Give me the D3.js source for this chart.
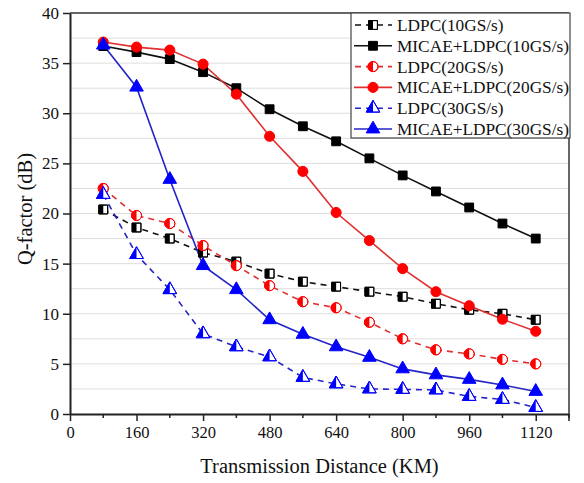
<!DOCTYPE html>
<html><head><meta charset="utf-8">
<script src="https://cdn.jsdelivr.net/npm/d3@7"></script>
<style>body{margin:0;background:#fff}svg{display:block}text{font-family:"Liberation Serif","Times New Roman",serif;fill:#111}</style>
</head><body>
<svg id="c" width="584" height="483"></svg>
<script>
const distances = [80,160,240,320,400,480,560,640,720,800,880,960,1040,1120];
const ldpc10 = [20.4,18.6,17.5,16.1,15.2,14.0,13.2,12.7,12.2,11.7,11.0,10.4,10.0,9.4];
const micae10 = [36.7,36.1,35.4,34.1,32.5,30.4,28.7,27.2,25.5,23.8,22.2,20.6,19.0,17.5];
const ldpc20 = [22.5,19.8,19.0,16.8,14.8,12.8,11.2,10.6,9.15,7.5,6.4,6.0,5.45,5.0];
const micae20 = [37.1,36.6,36.3,34.9,31.9,27.7,24.2,20.1,17.3,14.5,12.2,10.8,9.45,8.25];
const ldpc30 = [21.9,15.9,12.4,8.0,6.7,5.7,3.65,3.0,2.5,2.45,2.4,1.75,1.45,0.65];
const micae30 = [36.8,32.6,23.4,14.8,12.4,9.4,7.95,6.7,5.65,4.5,3.9,3.45,2.9,2.25];
const xTicks = [0,160,320,480,640,800,960,1120];
const yTicks = [0,5,10,15,20,25,30,35,40];
const seriesNames = ["LDPC(10GS/s)","MICAE+LDPC(10GS/s)","LDPC(20GS/s)","MICAE+LDPC(20GS/s)","LDPC(30GS/s)","MICAE+LDPC(30GS/s)"];

const series = [
  {name:seriesNames[0], vals:ldpc10, color:"#111", mcol:"#000", shape:"square", half:true},
  {name:seriesNames[1], vals:micae10, color:"#111", mcol:"#000", shape:"square", half:false},
  {name:seriesNames[2], vals:ldpc20, color:"#e03030", mcol:"#ff0000", shape:"circle", half:true},
  {name:seriesNames[3], vals:micae20, color:"#e03030", mcol:"#ff0000", shape:"circle", half:false},
  {name:seriesNames[4], vals:ldpc30, color:"#2424c8", mcol:"#0000ff", shape:"triangle", half:true},
  {name:seriesNames[5], vals:micae30, color:"#2424c8", mcol:"#0000ff", shape:"triangle", half:false}
];

const svg = d3.select("#c");
const L=70, R=569, T=13, B=414;
const x = d3.scaleLinear().domain([0,1200]).range([L,R]);
const y = d3.scaleLinear().domain([0,40]).range([B,T]);

svg.append("defs").append("clipPath").attr("id","lefthalf")
  .append("rect").attr("x",-20).attr("y",-20).attr("width",20).attr("height",40);

svg.append("g").selectAll("line").data(d3.range(2.5,40,2.5)).join("line")
  .attr("x1",L).attr("x2",R).attr("y1",d=>y(d)).attr("y2",d=>y(d))
  .attr("stroke","#dedede").attr("stroke-width",1);

svg.append("line").attr("x1",L).attr("x2",R).attr("y1",T).attr("y2",T).attr("stroke","#333").attr("stroke-width",1.5);
svg.append("line").attr("x1",R).attr("x2",R).attr("y1",T).attr("y2",B).attr("stroke","#333").attr("stroke-width",1.5);

const xAxis = d3.axisBottom(x).tickValues(xTicks).tickFormat(d3.format("d")).tickSize(7).tickSizeOuter(0).tickPadding(5);
const gx = svg.append("g").attr("transform",`translate(0,${B})`).call(xAxis);
gx.selectAll("text").attr("font-size",16.5);
gx.append("g").selectAll("line").data(d3.range(80,1201,160)).join("line")
  .attr("x1",d=>x(d)).attr("x2",d=>x(d)).attr("y1",0).attr("y2",4).attr("stroke","#222").attr("stroke-width",1.5);
gx.append("line").attr("x1",x(1200)).attr("x2",x(1200)).attr("y1",0).attr("y2",7).attr("stroke","#222").attr("stroke-width",1.5);
const yAxis = d3.axisLeft(y).tickValues(yTicks).tickFormat(d3.format("d")).tickSize(7).tickSizeOuter(0).tickPadding(4);
const gy = svg.append("g").attr("transform",`translate(${L},0)`).call(yAxis);
gy.selectAll("text").attr("font-size",17);
[gx,gy].forEach(g=>{g.select(".domain").attr("stroke","#222").attr("stroke-width",2);
  g.selectAll(".tick line").attr("stroke","#222").attr("stroke-width",1.5);
  g.selectAll("text").attr("fill","#111");});

svg.append("text").attr("x",(L+R)/2).attr("y",473).attr("text-anchor","middle").attr("font-size",20.5).text("Transmission Distance (KM)");
svg.append("text").attr("transform","translate(32,209) rotate(-90)").attr("text-anchor","middle").attr("font-size",20.5).text("Q-factor (dB)");

function symPath(shape){
  if(shape==="square") return d3.symbol(d3.symbolSquare,78)();
  if(shape==="circle") return d3.symbol(d3.symbolCircle,80)();
  return d3.symbol(d3.symbolTriangle,80)();
}
function drawMarker(g, s){
  const p = symPath(s.shape);
  if(s.half){
    g.append("path").attr("d",p).attr("fill","#fff").attr("stroke",s.mcol).attr("stroke-width",1);
    g.append("path").attr("d",p).attr("fill",s.mcol).attr("clip-path","url(#lefthalf)");
    g.append("path").attr("d",p).attr("fill","none").attr("stroke",s.mcol).attr("stroke-width",1);
  } else {
    g.append("path").attr("d",p).attr("fill",s.mcol).attr("stroke",s.mcol).attr("stroke-width",1);
  }
}

const line = d3.line().x((d,i)=>x(distances[i])).y(d=>y(d));
series.forEach(s=>{
  svg.append("path").datum(s.vals).attr("d",line).attr("fill","none")
    .attr("stroke",s.color).attr("stroke-width",1.6)
    .attr("stroke-dasharray",s.half?"6,5":null);
});
series.forEach(s=>{
  s.vals.forEach((v,i)=>{
    const g = svg.append("g").attr("transform",`translate(${x(distances[i])},${y(v)})`);
    drawMarker(g,s);
  });
});

const lg = svg.append("g");
lg.append("rect").attr("x",351).attr("y",13).attr("width",219).attr("height",125)
  .attr("fill","#fff").attr("stroke","#444").attr("stroke-width",1.2);
series.forEach((s,i)=>{
  const cy = 25 + i*20.8;
  lg.append("line").attr("x1",354).attr("x2",392).attr("y1",cy).attr("y2",cy)
    .attr("stroke",s.color).attr("stroke-width",1.6).attr("stroke-dasharray",s.half?"6,5":null)
    .attr("stroke-dashoffset",s.half?-1:0);
  const g = lg.append("g").attr("transform",`translate(373,${cy})`);
  drawMarker(g,s);
  lg.append("text").attr("x",397).attr("y",cy+6).attr("font-size",17.3).text(s.name);
});
</script>
</body></html>
